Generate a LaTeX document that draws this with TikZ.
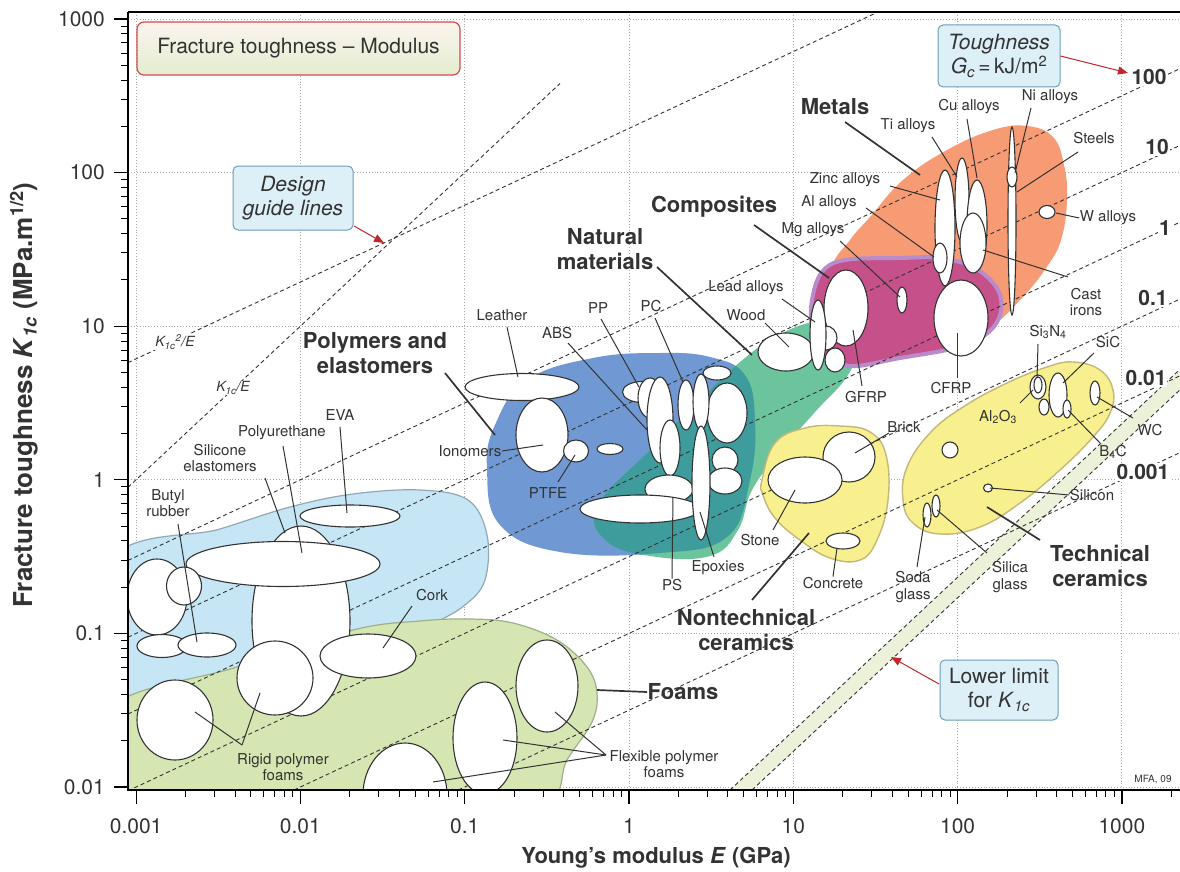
\documentclass[tikz,border=0pt]{standalone}
\usepackage{fontspec}
\setmainfont{TeX Gyre Heros}
\usetikzlibrary{arrows.meta}
\definecolor{elast}{HTML}{C6E6F6}
\definecolor{elastb}{HTML}{8FA9B5}
\definecolor{foam}{HTML}{D6E6B2}
\definecolor{foamb}{HTML}{9DB08A}
\definecolor{poly}{HTML}{7098D2}
\definecolor{tealo}{HTML}{3E9C9C}
\definecolor{natur}{HTML}{6CC49C}
\definecolor{metal}{HTML}{F69B74}
\definecolor{compo}{HTML}{C5508A}
\definecolor{compol}{HTML}{B98BCB}
\definecolor{ceram}{HTML}{F8F08E}
\definecolor{ceramb}{HTML}{C4B77A}
\definecolor{bandc}{HTML}{ECF1DA}
\definecolor{boxfill}{HTML}{DDEFF7}
\definecolor{boxline}{HTML}{6A9FB6}
\definecolor{arrowred}{HTML}{C0282D}
\definecolor{gridc}{HTML}{A8A8A8}
\definecolor{ink}{HTML}{333333}
\definecolor{titletop}{HTML}{FBF4EE}
\definecolor{titlebot}{HTML}{E3EDD0}
\definecolor{titleline}{HTML}{D24A4A}
\newcommand\bub[4]{\filldraw[bubble] (#1,#2) ellipse [x radius=#3pt, y radius=#4pt];}
\begin{document}
\begin{tikzpicture}[x=1pt,y=-1pt,
  bubble/.style={fill=white,draw=ink,line width=1.1pt},
  leader/.style={draw=ink,line width=1pt},
  catlead/.style={draw=ink,line width=1.7pt},
  lab/.style={font=\fontsize{15}{16.5}\selectfont,text=ink,inner sep=0.5pt,align=center},
  cat/.style={font=\bfseries\fontsize{22}{25}\selectfont,text=ink,inner sep=0.5pt,align=center},
  gclab/.style={font=\bfseries\fontsize{21}{23}\selectfont,text=ink,fill=white,inner sep=1pt},
  ticklab/.style={font=\fontsize{21}{23}\selectfont,text=ink,inner sep=0pt},
  guide/.style={draw=ink,dash pattern=on 4pt off 3pt,line width=0.9pt},
  gridline/.style={draw=gridc,dotted,line width=0.9pt},
  axisline/.style={draw=black,line width=1.6pt},
  infobox/.style={draw=boxline,fill=boxfill,rounded corners=5pt,line width=1pt,align=center,font=\itshape\fontsize{21}{24}\selectfont,text=ink,inner sep=0pt},
  redarrow/.style={draw=arrowred,line width=1pt,-{Triangle[length=10pt,width=8pt]}},
]
\useasboundingbox (0,0) rectangle (1180,872);
\fill[white] (0,0) rectangle (1180,872);

\begin{scope}
\clip (128,12) rectangle (1180,790);
% grid
\foreach \d in {-3,...,3} \draw[gridline] ({629+164.3*\d},12) -- ({629+164.3*\d},790);
\foreach \d in {-2,...,3} \draw[gridline] (128,{479.8-153.6*\d}) -- (1180,{479.8-153.6*\d});

% envelopes
\path[fill=elast,draw=elastb,line width=1.2pt] plot[smooth cycle,tension=0.6] coordinates {(110,562) (220,529) (290,507) (353,494) (420,490) (468,500) (487,535) (485,580) (465,605) (430,625) (380,645) (250,690) (110,718)};
\path[fill=foam,draw=foamb,line width=1.2pt] plot[smooth cycle,tension=0.6] coordinates {(110,708) (237,667) (353,630) (420,621) (470,619) (513,623) (557,640) (587,667) (597,693) (592,722) (567,760) (540,810) (400,840) (200,840) (105,800)};
\path[fill=poly] plot[smooth cycle,tension=0.7] coordinates {(487,470) (495,425) (527,380) (593,358) (660,353) (710,357) (745,375) (755,420) (750,480) (727,537) (660,553) (560,552) (500,525)};
\path[fill=natur] plot[smooth cycle,tension=0.7] coordinates {(598,505) (650,450) (700,400) (740,362) (775,337) (812,322) (845,320) (858,342) (848,375) (815,412) (780,452) (752,490) (738,530) (710,556) (650,556) (605,540)};
\begin{scope}
\clip plot[smooth cycle,tension=0.7] coordinates {(598,505) (650,450) (700,400) (740,362) (775,337) (812,322) (845,320) (858,342) (848,375) (815,412) (780,452) (752,490) (738,530) (710,556) (650,556) (605,540)};
\fill[tealo] plot[smooth cycle,tension=0.7] coordinates {(487,470) (495,425) (527,380) (593,358) (660,353) (710,357) (745,375) (755,420) (750,480) (727,537) (660,553) (560,552) (500,525)};
\end{scope}
\path[fill=metal] plot[smooth cycle,tension=0.7] coordinates {(833,268) (850,240) (870,217) (903,180) (947,150) (993,130) (1027,126) (1053,137) (1064,165) (1067,200) (1061,240) (1046,268) (1022,298) (990,328) (955,345) (900,330) (850,300)};
\path[fill=compo,draw=compol,line width=4pt] plot[smooth cycle,tension=0.6] coordinates {(812,300) (822,272) (845,260) (900,258) (940,258) (975,268) (998,290) (1000,315) (985,335) (955,348) (900,358) (850,366) (822,352) (812,330)};
\path[fill=ceram,draw=ceramb,line width=1.4pt] plot[smooth cycle,tension=0.7] coordinates {(762,480) (775,443) (805,428) (840,426) (870,432) (886,455) (888,500) (877,540) (860,560) (830,558) (800,540) (775,518) (763,495)};
\path[fill=ceram,draw=ceramb,line width=1.4pt] plot[smooth cycle,tension=0.7] coordinates {(1073,362) (1100,370) (1113,390) (1110,413) (1093,437) (1060,470) (1020,503) (980,527) (940,534) (913,523) (903,500) (907,467) (930,433) (963,407) (1007,383) (1047,367)};

% lower limit band
\fill[bandc] (730,790) -- (1180,369.3) -- (1180,389.8) -- (752,790) -- cycle;
\draw[guide] (730,790) -- (1180,369.3);
\draw[guide] (752,790) -- (1180,389.8);

% toughness lines
\draw[guide] (128,560.4) -- (1180,68.6);
\draw[guide] (128,637.2) -- (1180,145.4);
\draw[guide] (128,714.0) -- (1180,222.2);
\draw[guide] (128,790.8) -- (1180,299.0);
\draw[guide] (294,790) -- (1180,375.8);
\draw[guide] (458.3,790) -- (1180,452.6);
% design guide lines
\draw[guide] (128,487.3) -- (560,83.5);
\draw[guide] (128,362.6) -- (878,12);

% elastomer and foam bubbles
\bub{301}{621}{49}{95}
\bub{283}{564}{97}{22.5}
\bub{350}{516}{50}{11}
\bub{157}{597}{30}{38}
\bub{184}{586}{17.5}{19}
\bub{162}{646}{25}{11.5}
\bub{207}{645}{29}{12}
\bub{175}{720}{38}{40}
\bub{275}{678}{38}{37}
\bub{368}{656}{48}{22}
\bub{547}{686}{31}{46}
\bub{485}{738}{32}{56}
\bub{405}{795}{42}{52}

% polymer bubbles
\bub{522}{387}{57}{13.5}
\bub{542}{435}{26}{37}
\bub{576}{451}{12.5}{11}
\bub{610}{449}{13}{5.5}
\bub{642}{392}{19.5}{10.5}
\bub{727}{413}{20}{30}
\bub{717}{373}{14}{7}
\bub{650}{398}{12}{20}
\bub{660}{420}{13}{43}
\bub{686}{405}{8}{25}
\bub{701}{402}{8}{28}
\bub{670}{448}{10}{28}
\bub{725}{460}{13}{13}
\bub{725}{481}{17}{13}
\bub{669}{489}{24}{14}
\bub{640}{509}{60}{14}
\bub{701}{483}{9}{57}

% natural materials and composites
\bub{786}{352}{28}{19}
\bub{846}{308}{22}{38}
\bub{826}{338}{11}{12}
\bub{835}{360}{10}{12}
\bub{818}{335}{8}{35}
\bub{902}{300}{5}{13}
\bub{961}{318}{27}{38}

% metals
\bub{945}{228}{10}{58}
\bub{962}{200}{7}{42}
\bub{977}{225}{10}{45}
\bub{940}{258}{7}{15}
\bub{973}{243}{13}{30}
\bub{1012}{221}{4}{94}
\bub{1012}{177}{5}{10}
\bub{1047}{212}{8}{6.5}

% ceramics
\bub{849}{457}{26}{25}
\bub{805}{480}{37}{23}
\bub{843}{541}{17}{8}
\bub{1038}{387}{8}{12}
\bub{1038}{385}{4}{8}
\bub{1044}{407}{5}{8}
\bub{1058}{395}{9}{22}
\bub{1067}{409}{4}{9}
\bub{1095}{393}{5}{12}
\bub{950}{450}{8}{8}
\bub{988}{488}{4.5}{4}
\bub{927}{515}{4}{12}
\bub{936}{506}{4}{11}
\end{scope}

% leader coordinates and labels
\node[lab] (leather) at (502,315) {Leather};
\coordinate (leatherE) at (518,377); \draw[leader] (507,327) coordinate (leatherS) -- (leatherE);
\node[lab] (abs) at (557,333) {ABS};
\coordinate (absE) at (647,430); \draw[leader] (568,343) coordinate (absS) -- (absE);
\node[lab] (pp) at (598,308) {PP};
\coordinate (ppE) at (639,387); \draw[leader] (601,319) coordinate (ppS) -- (ppE);
\node[lab] (pc) at (651,306) {PC};
\coordinate (pcE) at (683,382); \draw[leader] (655,318) coordinate (pcS) -- (pcE);
\node[lab] (iono) at (470,451) {Ionomers};
\coordinate (ionoE) at (543,445); \draw[leader] (iono.east) -- (ionoE);
\node[lab] (ptfe) at (548,493) {PTFE};
\coordinate (ptfeE) at (575,455); \draw[leader] (558,482) coordinate (ptfeS) -- (ptfeE);
\node[lab] (ps) at (672,585) {PS};
\coordinate (psE) at (673,497); \draw[leader] (ps.north) -- (psE);
\node[lab] (epox) at (718,568) {Epoxies};
\coordinate (epoxE) at (700,512); \draw[leader] (714,557) coordinate (epoxS) -- (epoxE);
\node[lab] (wood) at (746,315) {Wood};
\coordinate (woodE) at (789,347); \draw[leader] (765,323) coordinate (woodS) -- (woodE);
\node[lab] (lead) at (746,288) {Lead alloys};
\coordinate (leadE) at (815,322); \draw[leader] (782,299) coordinate (leadS) -- (leadE);
\node[lab] (mg) at (813,230) {Mg alloys};
\coordinate (mgE) at (900,297); \draw[leader] (840,241) coordinate (mgS) -- (mgE);
\node[lab] (gfrp) at (866,397) {GFRP};
\coordinate (gfrpE) at (853,330); \draw[leader] (862,386) coordinate (gfrpS) -- (gfrpE);
\node[lab] (cfrp) at (951,388) {CFRP};
\coordinate (cfrpE) at (957,333); \draw[leader] (957,378) coordinate (cfrpS) -- (cfrpE);
\node[lab] (ti) at (908,126) {Ti alloys};
\coordinate (tiE) at (957,177); \draw[leader] (932,137) coordinate (tiS) -- (tiE);
\node[lab] (cu) at (969,107) {Cu alloys};
\coordinate (cuE) at (977,178); \draw[leader] (967,119) coordinate (cuS) -- (cuE);
\node[lab] (ni) at (1050,97) {Ni alloys};
\coordinate (niE) at (1015,173); \draw[leader] (1031,108) coordinate (niS) -- (niE);
\node[lab] (steel) at (1094,138) {Steels};
\coordinate (steelE) at (1017,192); \draw[leader] (1078,152) coordinate (steelS) -- (steelE);
\node[lab] (zinc) at (845,180) {Zinc alloys};
\coordinate (zincE) at (940,200); \draw[leader] (890,186) coordinate (zincS) -- (zincE);
\node[lab] (al) at (829,203) {Al alloys};
\coordinate (alE) at (934,257); \draw[leader] (866,208) coordinate (alS) -- (alE);
\node[lab] (w) at (1108,218) {W alloys};
\coordinate (wE) at (1056,213); \draw[leader] (w.west) -- (wE);
\node[lab] (cast) at (1086,302) {Cast\\irons};
\coordinate (castE) at (983,250); \draw[leader] (1068,277) coordinate (castS) -- (castE);
\node[lab] (stone) at (760,540) {Stone};
\coordinate (stoneE) at (795,490); \draw[leader] (773,530) coordinate (stoneS) -- (stoneE);
\node[lab] (concrete) at (833,583) {Concrete};
\coordinate (concreteE) at (837,548); \draw[leader] (concrete.north) -- (concreteE);
\node[lab] (brick) at (904,427) {Brick};
\coordinate (brickE) at (855,453); \draw[leader] (889,433) coordinate (brickS) -- (brickE);
\node[lab] (sin) at (1048,332) {Si\textsubscript{3}N\textsubscript{4}};
\coordinate (sinE) at (1037,378); \draw[leader] (1038,344) coordinate (sinS) -- (sinE);
\node[lab] (sic) at (1108,342) {SiC};
\coordinate (sicE) at (1063,383); \draw[leader] (1094,353) coordinate (sicS) -- (sicE);
\node[lab] (alo) at (998,417) {Al\textsubscript{2}O\textsubscript{3}};
\coordinate (aloE) at (1033,390); \draw[leader] (1020,403) coordinate (aloS) -- (aloE);
\node[lab] (bc) at (1113,452) {B\textsubscript{4}C};
\coordinate (bcE) at (1068,410); \draw[leader] (1100,443) coordinate (bcS) -- (bcE);
\node[lab] (wc) at (1150,430) {WC};
\coordinate (wcE) at (1097,397); \draw[leader] (1133,418) coordinate (wcS) -- (wcE);
\node[lab] (si) at (1092,495) {Silicon};
\coordinate (siE) at (990,488); \draw[leader] (si.west) -- (siE);
\node[lab] (soda) at (913,587) {Soda\\glass};
\coordinate (sodaE) at (925,517); \draw[leader] (917,567) coordinate (sodaS) -- (sodaE);
\node[lab] (silica) at (1010,577) {Silica\\glass};
\coordinate (silicaE) at (937,510); \draw[leader] (987,553) coordinate (silicaS) -- (silicaE);
\node[lab] (butyl) at (168,503) {Butyl\\rubber};
\coordinate (butylE) at (197,642); \draw[leader] (178,524) coordinate (butylS) -- (butylE);
\node[lab] (silicone) at (220,458) {Silicone\\elastomers};
\coordinate (siliconeE) at (285,533); \draw[leader] (265,478) coordinate (siliconeS) -- (siliconeE);
\node[lab] (pu) at (282,433) {Polyurethane};
\coordinate (puE) at (302,553); \draw[leader] (283,446) coordinate (puS) -- (puE);
\node[lab] (eva) at (340,415) {EVA};
\coordinate (evaE) at (347,513); \draw[leader] (340,427) coordinate (evaS) -- (evaE);
\node[lab] (cork) at (432,595) {Cork};
\coordinate (corkE) at (383,648); \draw[leader] (412,606) coordinate (corkS) -- (corkE);
\node[lab] (rigid) at (283,767) {Rigid polymer\\foams};
\coordinate (rigidA) at (195,712); \coordinate (rigidB) at (260,693);
\draw[leader] (242,745) coordinate (rigidS) -- (rigidA);
\draw[leader] (rigidS) -- (rigidB);
\node[lab] (flex) at (664,764) {Flexible polymer\\foams};
\coordinate (flexA) at (555,712); \coordinate (flexB) at (503,740); \coordinate (flexC) at (433,782);
\coordinate (flexS) at (606,755);
\draw[leader] (flexS) -- (flexA);
\draw[leader] (flexS) -- (flexB);
\draw[leader] (flexS) -- (flexC);

% category labels
\node[cat] (polyl) at (375,353) {Polymers and\\elastomers};
\coordinate (polyE) at (495,435); \draw[catlead] (445,373) coordinate (polyS) -- (polyE);
\node[cat] (natl) at (605,249) {Natural\\materials};
\coordinate (natE) at (752,355); \draw[catlead] (657,267) coordinate (natS) -- (natE);
\node[cat] (compl) at (714,207) {Composites};
\coordinate (compE) at (829,278); \draw[catlead] (754,225) coordinate (compS) -- (compE);
\node[cat] (metl) at (835,107) {Metals};
\coordinate (metE) at (920,175); \draw[catlead] (845,122) coordinate (metS) -- (metE);
\node[cat,anchor=west] (foaml) at (647,692) {Foams};
\coordinate (foamE) at (597,690); \draw[catlead] (foaml.west) -- (foamE);
\node[cat] (nontl) at (746,630) {Nontechnical\\ceramics};
\coordinate (nontE) at (809,533); \draw[catlead] (752,600) coordinate (nontS) -- (nontE);
\node[cat] (techl) at (1100,566) {Technical\\ceramics};
\coordinate (techE) at (987,507); \draw[catlead] (1040,540) coordinate (techS) -- (techE);

% guide line labels
\node[lab,fill=white,inner sep=1pt,font=\itshape\fontsize{14}{15}\selectfont] (k2e) at (175,342) {K\textsubscript{1c}\textsuperscript{2}/E};
\node[lab,fill=white,inner sep=1pt,font=\itshape\fontsize{14}{15}\selectfont] (ke) at (233,388) {K\textsubscript{1c}/E};

% toughness values
\node[gclab] (g100) at (1149,77) {100};
\node[gclab] (g10) at (1157,147) {10};
\node[gclab] (g1) at (1165,228) {1};
\node[gclab] (g01) at (1153,298) {0.1};
\node[gclab] (g001) at (1146,378) {0.01};
\node[gclab] (g0001) at (1143,472) {0.001};

% boxes
\node[draw=titleline,rounded corners=7pt,line width=1.2pt,top color=titletop,bottom color=titlebot,minimum width=323pt,minimum height=53pt,inner sep=0pt,font=\fontsize{21}{24}\selectfont,text=ink] (title) at (298.5,48.5) {Fracture toughness -- Modulus};
\node[infobox,minimum width=120pt,minimum height=64pt] (design) at (293,198) {Design\\guide lines};
\coordinate (designT) at (384,243);
\draw[redarrow] (354,226) coordinate (designS) -- (designT);
\node[infobox,minimum width=122pt,minimum height=62pt] (tough) at (999,56) {Toughness\\G\textsubscript{c}\,=\,\upshape kJ/m\textsuperscript{2}};
\coordinate (toughT) at (1128,73);
\draw[redarrow] (tough.east) -- (toughT);
\node[infobox,minimum width=118pt,minimum height=60pt,font=\fontsize{21}{24}\selectfont] (lower) at (999,690) {Lower limit\\for \textit{K}\textsubscript{\textit{1c}}};
\coordinate (lowerT) at (891,657);
\draw[redarrow] (939,684) coordinate (lowerS) -- (lowerT);

\node[lab,font=\fontsize{10}{11}\selectfont] (mfa) at (1153,780) {MFA, 09};

% axes
\draw[axisline] (128,12) -- (1180,12);
\draw[axisline] (128,12) -- (128,790) -- (1180,790);
\foreach \d in {-3,...,3} \draw[line width=1.2pt] ({629+164.3*\d},790) -- ({629+164.3*\d},804);
\foreach \d in {-3,...,2} \foreach \m in {2,...,9} \draw[line width=1pt] ({629+164.3*(\d+log10(\m))},790) -- ({629+164.3*(\d+log10(\m))},797);
\draw[line width=1pt] ({629+164.3*(3+log10(2))},790) -- ({629+164.3*(3+log10(2))},797);
\foreach \d in {-2,...,3} \draw[line width=1.2pt] (114,{479.8-153.6*\d}) -- (128,{479.8-153.6*\d});
\foreach \d in {-2,...,2} \foreach \m in {2,...,9} \draw[line width=1pt] (121,{479.8-153.6*(\d+log10(\m))}) -- (128,{479.8-153.6*(\d+log10(\m))});

\foreach \v/\t [count=\i] in {-3/0.001,-2/0.01,-1/0.1,0/1,1/10,2/100,3/1000}
  \node[ticklab] (xt\i) at ({629+164.3*\v},826) {\t};
\foreach \v/\t [count=\i] in {3/1000,2/100,1/10,0/1,-1/0.1,-2/0.01}
  \node[ticklab,anchor=east] (yt\i) at (105,{479.8-153.6*\v}) {\t};

\node[font=\bfseries\fontsize{22}{24}\selectfont,text=ink] (xtitle) at (656,858) {Young's modulus \textit{E} (GPa)};
\node[font=\bfseries\fontsize{26}{28}\selectfont,text=ink,rotate=90] (ytitle) at (24,395) {Fracture toughness \textit{K}\textsubscript{\textit{1c}} (MPa.m\textsuperscript{1/2})};
\end{tikzpicture}
\end{document}
